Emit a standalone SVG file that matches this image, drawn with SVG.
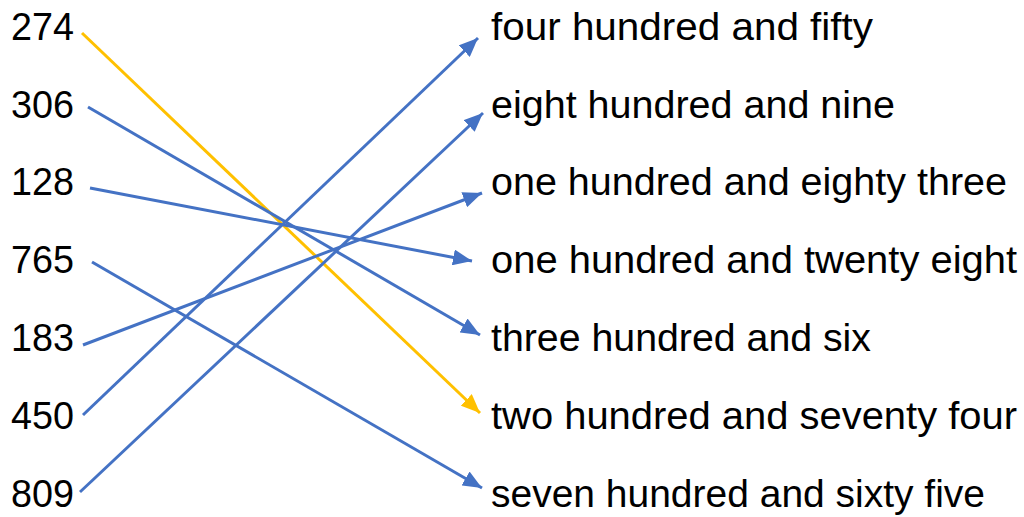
<svg xmlns="http://www.w3.org/2000/svg" width="1024" height="517" viewBox="0 0 1024 517">
<style>
text{font-family:"Liberation Sans",Arial,sans-serif;font-size:38px;fill:#000}
.b{stroke:#4472C4;stroke-width:3;fill:none;marker-end:url(#ab)}
.y{stroke:#FFC000;stroke-width:3;fill:none;marker-end:url(#ay)}
</style>
<defs>
<marker id="ab" markerUnits="userSpaceOnUse" markerWidth="20" markerHeight="16" refX="19" refY="8" orient="auto" viewBox="0 0 20 16"><path d="M0,0 L19,8 L0,16 Z" fill="#4472C4"/></marker>
<marker id="ay" markerUnits="userSpaceOnUse" markerWidth="20" markerHeight="16" refX="19" refY="8" orient="auto" viewBox="0 0 20 16"><path d="M0,0 L19,8 L0,16 Z" fill="#FFC000"/></marker>
</defs>
<rect width="1024" height="517" fill="#fff"/>
<g id="left">
<g id="n274"><text x="11" y="40" textLength="63" lengthAdjust="spacingAndGlyphs">274</text></g>
<g id="n306"><text x="11" y="118" textLength="63" lengthAdjust="spacingAndGlyphs">306</text></g>
<g id="n128"><text x="11" y="195" textLength="63" lengthAdjust="spacingAndGlyphs">128</text></g>
<g id="n765"><text x="11" y="273" textLength="63" lengthAdjust="spacingAndGlyphs">765</text></g>
<g id="n183"><text x="11" y="351" textLength="63" lengthAdjust="spacingAndGlyphs">183</text></g>
<g id="n450"><text x="11" y="429" textLength="63" lengthAdjust="spacingAndGlyphs">450</text></g>
<g id="n809"><text x="11" y="507" textLength="63" lengthAdjust="spacingAndGlyphs">809</text></g>
</g>
<g id="right">
<g id="w450"><text x="491" y="40" textLength="382" lengthAdjust="spacingAndGlyphs">four hundred and fifty</text></g>
<g id="w809"><text x="491" y="118" textLength="404" lengthAdjust="spacingAndGlyphs">eight hundred and nine</text></g>
<g id="w183"><text x="491" y="195" textLength="516" lengthAdjust="spacingAndGlyphs">one hundred and eighty three</text></g>
<g id="w128"><text x="491" y="273" textLength="526" lengthAdjust="spacingAndGlyphs">one hundred and twenty eight</text></g>
<g id="w306"><text x="491" y="351" textLength="380" lengthAdjust="spacingAndGlyphs">three hundred and six</text></g>
<g id="w274"><text x="491" y="429" textLength="526" lengthAdjust="spacingAndGlyphs">two hundred and seventy four</text></g>
<g id="w765"><text x="491" y="507" textLength="494" lengthAdjust="spacingAndGlyphs">seven hundred and sixty five</text></g>
</g>
<g id="connectors">
<line class="y" x1="82" y1="33" x2="480" y2="413"/>
<line class="b" x1="88" y1="107" x2="480" y2="335"/>
<line class="b" x1="90" y1="188" x2="472" y2="261"/>
<line class="b" x1="92" y1="262" x2="482" y2="488"/>
<line class="b" x1="83" y1="345" x2="482" y2="193"/>
<line class="b" x1="83" y1="415" x2="478" y2="38"/>
<line class="b" x1="80" y1="492" x2="483" y2="113"/>
</g>
</svg>
